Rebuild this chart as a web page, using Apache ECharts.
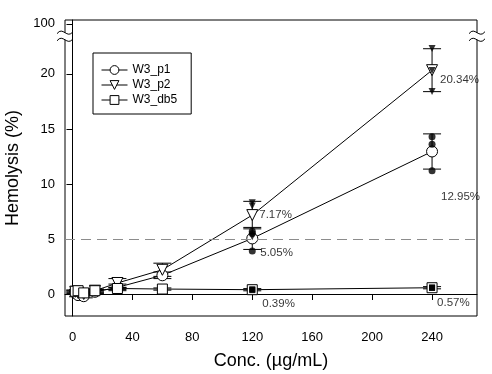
<!DOCTYPE html>
<html><head><meta charset="utf-8">
<script src="https://cdn.jsdelivr.net/npm/echarts@6/dist/echarts.min.js"></script>
<style>html,body{margin:0;padding:0;background:#fff}#c{width:492px;height:374px}</style>
</head><body><div id="c"></div>
<script>
// ---- data ----
const conc = [1.875, 3.75, 7.5, 15, 30, 60, 120, 240];
const p1Mean = [0.1, -0.1, -0.2, 0.2, 0.6, 1.7, 5.05, 12.95];
const p1Err  = [0.15, 0.15, 0.15, 0.15, 0.3, 0.3, 1.0, 1.6];
const p2Mean = [0.2, 0.1, 0.0, 0.3, 1.0, 2.2, 7.17, 20.34];
const p2Err  = [0.15, 0.15, 0.15, 0.15, 0.4, 0.6, 1.25, 1.95];
const db5Mean = [0.25, 0.3, 0.1, 0.3, 0.5, 0.45, 0.39, 0.57];
const db5Err  = [0.1, 0.1, 0.1, 0.1, 0.1, 0.1, 0.1, 0.1];
const repConc = [120, 120, 120, 240, 240, 240];
const p1Rep  = [5.7, 5.5, 3.9, 14.3, 13.6, 11.2];
const p2Rep  = [8.3, 8.0, 5.2, 22.3, 20.3, 18.4];
const db5Rep = [0.35, 0.4, 0.42, 0.55, 0.6, 0.56];
const labelConc = [240, 240, 120, 120, 120, 240];
const labelVals = [20.34, 12.95, 7.17, 5.05, 0.39, 0.57];
const labelTexts = ['20.34%', '12.95%', '7.17%', '5.05%', '0.39%', '0.57%'];
const xTicks = [0, 40, 80, 120, 160, 200, 240];
const yTickVals = [0, 5, 10, 15, 20, 24.55];
const yTickLabels = ['0', '5', '10', '15', '20', '100'];
const threshold = 5;
const seriesNames = ['W3_p1', 'W3_p2', 'W3_db5'];

// ---- styles ----
const FONT = 'Liberation Sans, Arial, sans-serif';
const triDown = 'path://M0,0 L10,0 L5,9 Z';
const symbols = ['circle', triDown, 'rect'];
const labelOffsets = [[3, 10], [4, 45], [2, 0], [3, 14], [5, 14], [0, 15]];

function errSeries(means, errs) {
  return {
    type: 'custom', silent: true, z: 1,
    data: conc.map((c, i) => [c, means[i] - errs[i], means[i] + errs[i]]),
    encode: { x: 0, y: [1, 2] },
    renderItem: (params, api) => {
      const x = api.value(0);
      const lo = api.coord([x, api.value(1)]);
      const hi = api.coord([x, api.value(2)]);
      const hw = 9, st = { stroke: '#000', lineWidth: 1 };
      return { type: 'group', children: [
        { type: 'line', shape: { x1: lo[0], y1: lo[1], x2: hi[0], y2: hi[1] }, style: st },
        { type: 'line', shape: { x1: lo[0] - hw, y1: lo[1], x2: lo[0] + hw, y2: lo[1] }, style: st },
        { type: 'line', shape: { x1: hi[0] - hw, y1: hi[1], x2: hi[0] + hw, y2: hi[1] }, style: st }
      ]};
    }
  };
}
function lineSeries(name, means, sym, extra) {
  return Object.assign({
    type: 'line', name: name, z: 3,
    data: conc.map((c, i) => [c, means[i]]),
    symbol: sym, symbolSize: sym === 'rect' ? 10 : 11,
    itemStyle: { color: '#fff', borderColor: '#000', borderWidth: 1 },
    lineStyle: { color: '#000', width: 1 },
    emphasis: { disabled: true }
  }, extra || {});
}
function repSeries(vals, sym) {
  return {
    type: 'scatter', z: 4, silent: true,
    data: repConc.map((c, i) => [c, vals[i]]),
    symbol: sym, symbolSize: sym === 'rect' ? 6 : 7,
    itemStyle: { color: '#000' }
  };
}

const chart = echarts.init(document.getElementById('c'));
chart.setOption({
  animation: false,
  grid: { left: 65, right: 15, top: 20, bottom: 58, show: true, borderColor: '#000', borderWidth: 1,
          containLabel: false, outerBoundsMode: 'none' },
  legend: {
    data: seriesNames, orient: 'vertical', left: 93, top: 53,
    borderColor: '#000', borderWidth: 1, borderRadius: 0,
    padding: [11, 14, 8, 8], itemWidth: 26, itemHeight: 11, itemGap: 3,
    lineStyle: { width: 1, color: '#000' },
    itemStyle: { borderWidth: 1, borderColor: '#000', color: '#fff' },
    textStyle: { fontFamily: FONT, fontSize: 12, color: '#000' }
  },
  xAxis: {
    type: 'value', min: -5, max: 270,
    name: 'Conc. (µg/mL)', nameLocation: 'middle', nameGap: 36,
    nameTextStyle: { fontFamily: FONT, fontSize: 18, color: '#000' },
    axisLine: { lineStyle: { color: '#000' } },
    axisTick: { show: true, inside: false, length: 6, customValues: xTicks, lineStyle: { color: '#000' } },
    axisLabel: { customValues: xTicks, fontFamily: FONT, fontSize: 13, color: '#000', margin: 15 },
    splitLine: { show: false }
  },
  yAxis: {
    type: 'value', min: -2, max: 24.9,
    name: 'Hemolysis (%)', nameLocation: 'middle', nameGap: 33,
    nameTextStyle: { fontFamily: FONT, fontSize: 18, color: '#000' },
    axisLine: { show: true, lineStyle: { color: '#000' } },
    axisTick: { show: true, inside: false, length: 6, customValues: yTickVals, lineStyle: { color: '#000' } },
    axisLabel: {
      customValues: yTickVals, fontFamily: FONT, fontSize: 13, color: '#000', margin: 10,
      formatter: v => { const i = yTickVals.findIndex(t => Math.abs(t - v) < 1e-6); return i >= 0 ? yTickLabels[i] : ''; }
    },
    splitLine: { show: false }
  },
  series: [
    errSeries(p1Mean, p1Err),
    errSeries(p2Mean, p2Err),
    errSeries(db5Mean, db5Err),
    lineSeries(seriesNames[0], p1Mean, symbols[0], {
      markLine: {
        silent: true, symbol: 'none', label: { show: false },
        lineStyle: { color: '#8c8c8c', width: 1, type: [10, 6] },
        data: [{ yAxis: threshold }]
      }
    }),
    lineSeries(seriesNames[1], p2Mean, symbols[1]),
    lineSeries(seriesNames[2], db5Mean, symbols[2]),
    repSeries(p1Rep, 'circle'),
    repSeries(p2Rep, triDown),
    repSeries(db5Rep, 'rect'),
    {
      type: 'scatter', silent: true, z: 5, symbolSize: 0, itemStyle: { color: '#000' },
      data: labelConc.map((c, i) => ({
        value: [c, labelVals[i]],
        label: { show: true, position: 'right', offset: labelOffsets[i], formatter: labelTexts[i],
                 fontFamily: FONT, fontSize: 11.5, color: '#000', textBorderWidth: 0 }
      }))
    }
  ]
});

// axis-break squiggles
function squiggle(cx, cy) {
  return {
    type: 'bezierCurve',
    shape: { x1: cx - 8, y1: cy + 1, x2: cx + 8, y2: cy - 1, cpx1: cx - 2, cpy1: cy - 7, cpx2: cx + 2, cpy2: cy + 7 },
    style: { stroke: '#000', lineWidth: 1, fill: null }, z: 10
  };
}
const yb1 = 23.75, yb2 = 23.1;
const l1 = chart.convertToPixel({ gridIndex: 0 }, [-5, yb1]);
const l2 = chart.convertToPixel({ gridIndex: 0 }, [-5, yb2]);
const r1 = chart.convertToPixel({ gridIndex: 0 }, [270, yb1]);
const r2 = chart.convertToPixel({ gridIndex: 0 }, [270, yb2]);
chart.setOption({ graphic: [
  { type: 'rect', shape: { x: l1[0] - 1, y: l1[1], width: 2, height: l2[1] - l1[1] }, style: { fill: '#fff' }, z: 9 },
  { type: 'rect', shape: { x: r1[0] - 1, y: r1[1], width: 2, height: r2[1] - r1[1] }, style: { fill: '#fff' }, z: 9 },
  squiggle(l1[0], l1[1]), squiggle(l2[0], l2[1]),
  squiggle(r1[0], r1[1]), squiggle(r2[0], r2[1])
]});
</script></body></html>
